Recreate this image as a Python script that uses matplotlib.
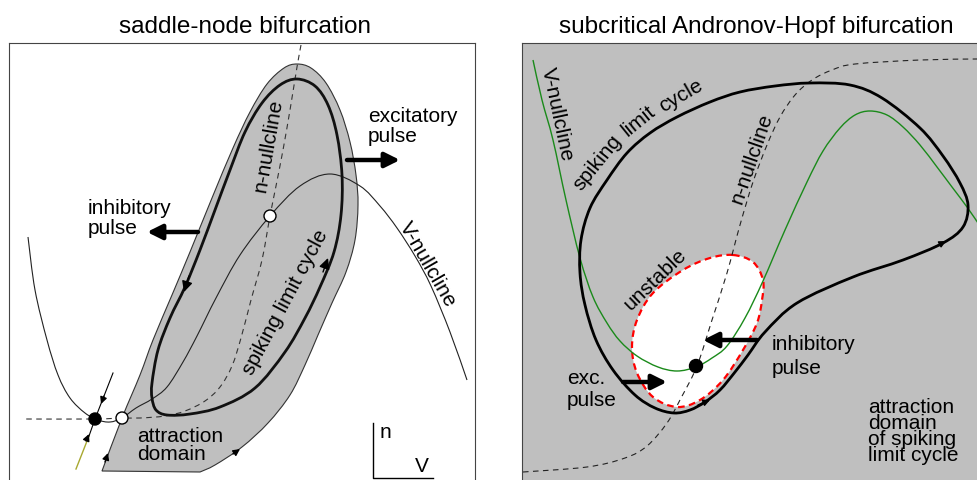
import numpy as np
import matplotlib
matplotlib.use("Agg")
import matplotlib.pyplot as plt
from matplotlib.path import Path
from matplotlib.patches import PathPatch, Circle

plt.rcParams['font.family'] = ['Liberation Sans', 'DejaVu Sans']

W, H = 977, 480

# ---------- saddle-node panel (picture coordinates, y grows downwards) ----------
sn_cycle = [(167, 415), (156, 410), (152, 398), (152, 383), (158, 350), (170, 318),
            (185, 287), (200, 250), (215, 210), (230, 170), (245, 132), (262, 103),
            (280, 85), (297, 79), (315, 86), (328, 105), (337, 135), (342, 175),
            (341, 215), (334, 252), (320, 287), (305, 318), (285, 352), (255, 388),
            (220, 407), (190, 414)]
sn_domain = [(102, 471), (122, 418), (140, 375), (153, 340), (172, 295), (190, 252),
             (212, 198), (233, 148), (250, 112), (267, 84), (284, 68), (297, 64),
             (311, 68), (326, 83), (340, 110), (350, 142), (356, 175), (358, 205),
             (355, 240), (346, 272), (332, 303), (318, 335), (305, 365), (290, 395),
             (268, 423), (242, 447), (215, 465), (200, 472)]
sn_vnull = [(28, 237), (35, 290), (47, 340), (58, 375), (70, 398), (85, 413),
            (98, 420), (110, 422), (122, 418), (136, 408), (152, 399), (167, 387),
            (183, 362), (197, 336), (216, 298), (240, 255), (270, 216), (300, 186),
            (330, 174), (360, 186), (380, 206), (397, 228), (415, 256), (431, 286),
            (450, 332), (467, 380)]
sn_nnull = [(301, 45), (297, 67), (290, 110), (283, 150), (276, 186), (270, 216),
            (262, 260), (251, 300), (241, 338), (232, 366), (220, 387), (205, 401),
            (185, 411), (165, 416), (140, 418), (122, 418), (95, 419), (23, 419)]
sn_saddle = (95, 419)
sn_node = (122, 418)
sn_unstable_fp = (270, 216)
sn_manifold_top = [(113, 373), (95, 419)]
sn_manifold_low = [(76, 469), (89, 436)]

# ---------- Andronov-Hopf panel ----------
ah_cycle = [(810, 83), (850, 85), (882, 98), (920, 128), (943, 156), (960, 183),
            (968, 205), (963, 227), (943, 243), (903, 260), (853, 277), (797, 303),
            (765, 332), (748, 355), (735, 372), (720, 390), (705, 402), (690, 410),
            (674, 413), (655, 408), (635, 395), (613, 370), (596, 340), (585, 305),
            (580, 273), (581, 240), (590, 208), (607, 180), (627, 153), (650, 133),
            (677, 117), (710, 102), (740, 92), (775, 86)]
ah_unstable = [(733, 255), (753, 262), (763, 280), (762, 300), (757, 323), (743, 350),
               (723, 380), (700, 400), (677, 407), (653, 397), (637, 373), (632, 347),
               (637, 320), (653, 293), (683, 270), (710, 258)]
ah_nnull = [(523, 472), (587, 467), (625, 458), (647, 446), (667, 423), (681, 398),
            (697, 366), (712, 320), (727, 273), (740, 225), (753, 182), (767, 145),
            (780, 117), (795, 95), (812, 80), (832, 70), (855, 64), (920, 60), (977, 59)]
ah_vnull = [(533, 60), (542, 100), (553, 140), (566, 200), (580, 258), (593, 297),
            (607, 323), (620, 341), (637, 356), (658, 367), (677, 371), (696, 367),
            (712, 358), (727, 346), (745, 318), (763, 281), (785, 230), (807, 182),
            (823, 151), (840, 128), (855, 115), (870, 111), (887, 115), (903, 127),
            (920, 145), (937, 167), (952, 187), (967, 207), (980, 226)]
ah_rest = (696, 366)

GRAY = '#bfbfbf'


def spline_path(pts, closed=False):
    p = np.asarray(pts, float)
    if closed:
        ext = np.vstack([p[-1], p, p[0], p[1]])
    else:
        ext = np.vstack([p[0], p, p[-1]])
    verts = [ext[1]]
    codes = [Path.MOVETO]
    for i in range(1, len(ext) - 2):
        p0, p1, p2, p3 = ext[i - 1], ext[i], ext[i + 1], ext[i + 2]
        verts += [p1 + (p2 - p0) / 6, p2 - (p3 - p1) / 6, p2]
        codes += [Path.CURVE4] * 3
    if closed:
        verts.append(ext[1])
        codes.append(Path.CLOSEPOLY)
    return Path(verts, codes)


def curve(ax, pts, closed=False, **kw):
    kw.setdefault('fill', False)
    ax.add_patch(PathPatch(spline_path(pts, closed), **kw))


def head(ax, tail, tip, size=12):
    ax.annotate('', xy=tip, xytext=tail,
                arrowprops=dict(arrowstyle='-|>', color='k', lw=1, mutation_scale=size,
                                shrinkA=0, shrinkB=0))


def pulse(ax, tail, tip):
    ax.annotate('', xy=tip, xytext=tail,
                arrowprops=dict(arrowstyle='-|>', color='k', lw=3.2, mutation_scale=22,
                                shrinkA=0, shrinkB=0))


def lines(ax, x, ys, words, **kw):
    for y, w in zip(ys, words):
        ax.text(x, y, w, fontsize=15, va='center', ha='left', **kw)


fig = plt.figure(figsize=(W / 100, H / 100), dpi=100)

# ================= left panel =================
ax1 = fig.add_axes([9 / W, 0, (475 - 9) / W, (480 - 43) / H])
ax1.set_xlim(9, 475)
ax1.set_ylim(480, 43)
ax1.set_xticks([])
ax1.set_yticks([])
ax1.spines['bottom'].set_visible(False)
for s in ['left', 'right', 'top']:
    ax1.spines[s].set_color('#444444')

dom = spline_path(sn_domain)
verts = list(dom.vertices) + [sn_domain[0], sn_domain[0]]
codes = list(dom.codes) + [Path.LINETO, Path.CLOSEPOLY]
ax1.add_patch(PathPatch(Path(verts, codes), facecolor=GRAY, edgecolor='#333333', lw=0.8))

curve(ax1, sn_nnull, edgecolor='#333333', lw=0.8, linestyle=(0, (5, 4)))
curve(ax1, sn_vnull, edgecolor='#222222', lw=0.8)
curve(ax1, sn_cycle, closed=True, edgecolor='#111111', lw=2)

ax1.plot(*zip(*sn_manifold_top), color='k', lw=0.8)
ax1.plot(*zip(*sn_manifold_low), color='#a8a830', lw=1.0)
ax1.plot([sn_manifold_low[1][0], sn_saddle[0]], [sn_manifold_low[1][1], sn_saddle[1]],
         color='k', lw=0.8)

head(ax1, (104, 396), (101, 404), 10)
head(ax1, (86, 441), (89, 434), 10)
head(ax1, (105, 462), (108, 453), 10)
head(ax1, (233, 454), (240, 449), 10)
head(ax1, (189, 276), (184, 292), 16)
head(ax1, (323, 272), (328, 258), 16)

ax1.add_patch(Circle(sn_saddle, 6, facecolor='k', edgecolor='k', zorder=5))
ax1.add_patch(Circle(sn_node, 6, facecolor='white', edgecolor='k', lw=1, zorder=5))
ax1.add_patch(Circle(sn_unstable_fp, 6, facecolor='white', edgecolor='k', lw=1, zorder=5))

pulse(ax1, (198, 232), (147, 232))
pulse(ax1, (347, 160), (400, 160))

lines(ax1, 88, [209, 229], ['inhibitory', 'pulse'])
lines(ax1, 368, [117, 137], ['excitatory', 'pulse'])
lines(ax1, 137, [437, 455], ['attraction', 'domain'])
ax1.text(268, 146, 'n-nullcline', fontsize=15, rotation=80, ha='center', va='center')
ax1.text(285, 302, 'spiking limit cycle', fontsize=15, rotation=62, ha='center', va='center')
ax1.text(428, 265, 'V-nullcline', fontsize=15, rotation=-60, ha='center', va='center')

ax1.plot([373, 373, 433], [423, 478, 478], color='k', lw=1)
ax1.text(380, 432, 'n', fontsize=15, ha='left', va='center')
ax1.text(415, 466, 'V', fontsize=15, ha='left', va='center')

# ================= right panel =================
ax2 = fig.add_axes([522 / W, 0, (990 - 522) / W, (480 - 43) / H])
ax2.set_xlim(522, 990)
ax2.set_ylim(480, 43)
ax2.set_xticks([])
ax2.set_yticks([])
ax2.set_facecolor(GRAY)
ax2.spines['bottom'].set_visible(False)
for s in ['left', 'right', 'top']:
    ax2.spines[s].set_color('#444444')

curve(ax2, ah_unstable, closed=True, fill=True, facecolor='white', edgecolor='red',
      lw=1.6, linestyle=(0, (3, 2)))
curve(ax2, ah_nnull, edgecolor='#222222', lw=0.8, linestyle=(0, (5, 4)))
curve(ax2, ah_vnull, edgecolor='#1a8a1a', lw=1)
curve(ax2, ah_cycle, closed=True, edgecolor='black', lw=2)

head(ax2, (698, 405), (710, 400), 10)
head(ax2, (933, 248), (946, 241), 10)

ax2.add_patch(Circle(ah_rest, 6.5, facecolor='k', edgecolor='k', zorder=5))

pulse(ax2, (757, 340), (703, 340))
pulse(ax2, (623, 382), (667, 382))

lines(ax2, 772, [345, 368], ['inhibitory', 'pulse'])
lines(ax2, 567, [378, 400], ['exc.', 'pulse'])
ax2.text(868, 431.5, 'attraction\ndomain\nof spiking\nlimit cycle', fontsize=15,
         linespacing=0.78, ha='left', va='center')

ax2.text(557, 115, 'V-nullcline', fontsize=15, rotation=-78, ha='center', va='center')
ax2.text(752, 159, 'n-nullcline', fontsize=15, rotation=71, ha='center', va='center')
ax2.text(655, 280, 'unstable', fontsize=15, rotation=44, ha='center', va='center')
ax2.text(598, 163, 'spiking', fontsize=15, rotation=51, ha='center', va='center')
ax2.text(639, 121, 'limit', fontsize=15, rotation=39, ha='center', va='center')
ax2.text(681, 96, 'cycle', fontsize=15, rotation=30, ha='center', va='center')

fig.text(245.5 / W, 1 - 33 / H, 'saddle-node bifurcation', fontsize=17.5, ha='center',
         va='baseline')
fig.text(756 / W, 1 - 33 / H, 'subcritical Andronov-Hopf bifurcation', fontsize=17.5,
         ha='center', va='baseline')

fig.savefig('out.png', dpi=100)
